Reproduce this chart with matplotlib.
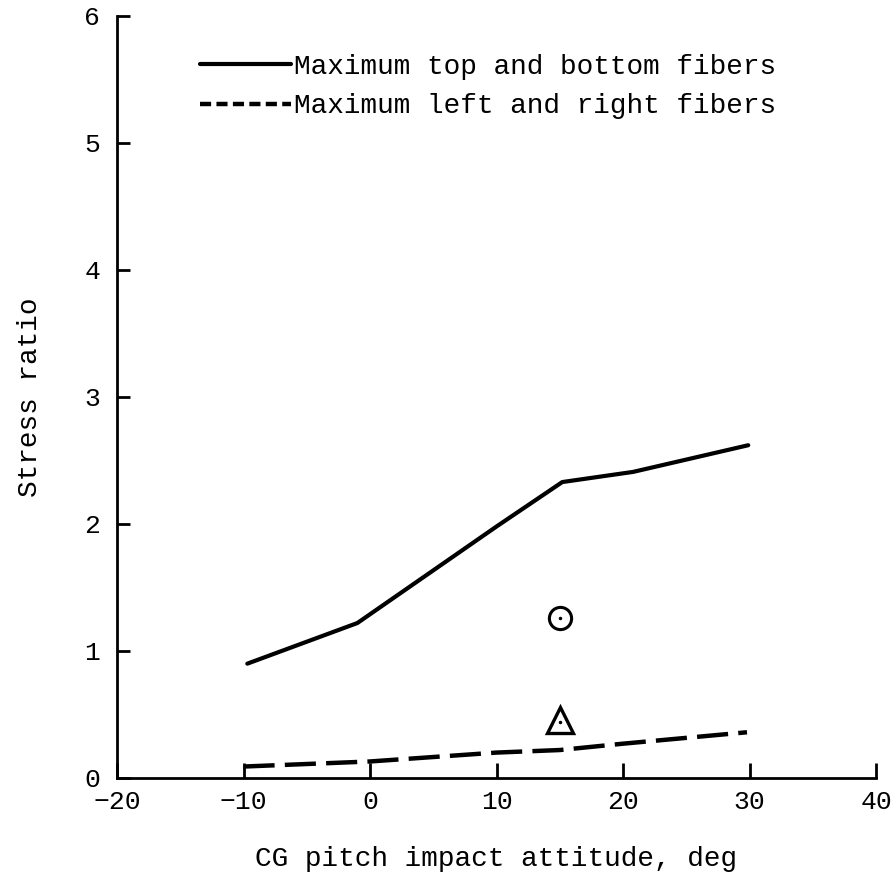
import matplotlib
matplotlib.use("Agg")
import matplotlib.pyplot as plt

# Data
solid_x = [-9.7, -1.0, 10.0, 15.2, 20.8, 29.9]
solid_y = [0.90, 1.22, 1.98, 2.33, 2.41, 2.62]
dash_x = [-10.0, 0.0, 10.0, 15.0, 20.0, 29.8]
dash_y = [0.09, 0.13, 0.20, 0.22, 0.27, 0.36]
circle_x = [15.0]
circle_y = [1.26]
tri_x = [15.0]
tri_y = [0.46]
x_ticks = [-20, -10, 0, 10, 20, 30, 40]
y_ticks = [0, 1, 2, 3, 4, 5, 6]
labels = ["Maximum top and bottom fibers", "Maximum left and right fibers"]

plt.rcParams['font.family'] = ['Liberation Mono', 'DejaVu Sans Mono']

fig = plt.figure(figsize=(8.96, 8.76), dpi=100)
ax = fig.add_axes([0.1306, 0.1119, 0.8471, 0.8699])

ax.plot(solid_x, solid_y, color='black', lw=3.0, solid_capstyle='round', label=labels[0])
ax.plot(dash_x, dash_y, color='black', lw=3.2, dashes=(7, 2.3), label=labels[1])
ax.plot(circle_x, circle_y, marker='o', ms=16, mfc='none', mec='black', mew=2.2, ls='none')
ax.plot(circle_x, circle_y, marker='.', ms=3, color='black', ls='none')
ax.plot(tri_x, tri_y, marker='^', ms=19, mfc='none', mec='black', mew=2.4, ls='none')
ax.plot(tri_x, [v - 0.02 for v in tri_y], marker='.', ms=3, color='black', ls='none')

ax.set_xlim(-20, 40)
ax.set_ylim(0, 6)
ax.set_xticks(x_ticks)
ax.set_yticks(y_ticks)
ax.spines['top'].set_visible(False)
ax.spines['right'].set_visible(False)
ax.spines['left'].set_linewidth(2)
ax.spines['bottom'].set_linewidth(2)
ax.tick_params(axis='x', direction='in', length=11, width=2, labelsize=19, pad=9)
ax.tick_params(axis='y', direction='in', length=9, width=2, labelsize=19, pad=12)
for lbl in ax.get_yticklabels():
    lbl.set_verticalalignment('center_baseline')

ax.set_xlabel("CG pitch impact attitude, deg", fontsize=20, labelpad=23)
ax.set_ylabel("Stress ratio", fontsize=20, labelpad=30)

leg = ax.legend(loc='upper left', bbox_to_anchor=(0.076, 0.983), frameon=False,
                fontsize=20, handlelength=3.3, handletextpad=0.1, labelspacing=0.48)
leg.get_lines()[1].set_dashes((2.5, 1.2))

fig.savefig("out.png", dpi=100, facecolor='white')
